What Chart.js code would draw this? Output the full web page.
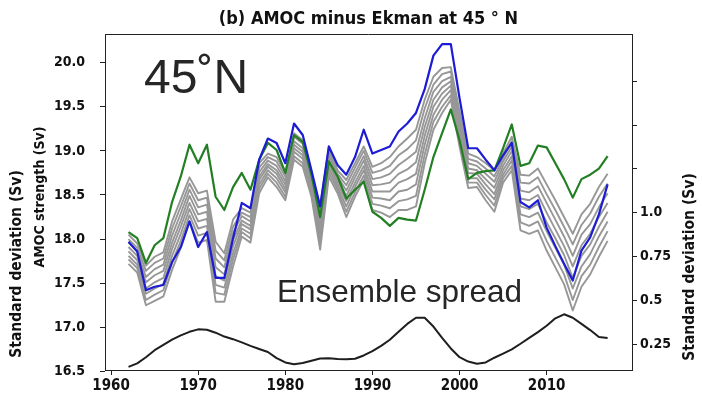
<!DOCTYPE html>
<html><head><meta charset="utf-8">
<script src="https://cdn.jsdelivr.net/npm/chart.js@4"></script>
<style>html,body{margin:0;padding:0;background:#fff;}canvas{display:block;}</style>
</head><body>
<canvas id="c" width="702" height="401"></canvas>
<script>
const years = [1962,1963,1964,1965,1966,1967,1968,1969,1970,1971,1972,1973,1974,1975,1976,1977,1978,1979,1980,1981,1982,1983,1984,1985,1986,1987,1988,1989,1990,1991,1992,1993,1994,1995,1996,1997,1998,1999,2000,2001,2002,2003,2004,2005,2006,2007,2008,2009,2010,2011,2012,2013,2014,2015,2016,2017];

const blueSeries = [17.97,17.86,17.42,17.46,17.48,17.74,17.91,18.20,17.91,18.08, 17.56,17.56,18.01,18.41,18.35,18.90,19.14,19.09,18.86,19.31, 19.18,18.78,18.37,19.05,18.84,18.73,18.93,19.24,18.97,19.01, 19.05,19.22,19.31,19.43,19.70,20.08,20.21,20.21,19.60,19.03, 19.03,18.90,18.78,18.95,19.09,18.42,18.36,18.44,18.13,17.92, 17.72,17.53,17.87,18.02,18.28,18.62];

const greenSeries = [18.08,18.01,17.73,17.93,18.01,18.42,18.71,19.07,18.86,19.07, 18.48,18.33,18.59,18.75,18.56,18.90,19.09,19.01,18.75,19.18, 19.10,18.73,18.25,18.88,18.71,18.46,18.56,18.65,18.31,18.24, 18.15,18.24,18.22,18.21,18.56,18.93,19.20,19.47,19.12,18.68, 18.75,18.77,18.78,19.03,19.30,18.83,18.86,19.06,19.04,18.86, 18.68,18.47,18.68,18.73,18.80,18.94];

const gray1 = [18.05,17.95,17.70,17.80,17.85,18.20,18.45,18.70,18.52,18.55, 17.97,17.84,18.22,18.35,18.30,18.86,18.97,18.93,18.75,19.20, 19.12,18.75,18.37,19.05,18.78,18.67,18.86,19.05,18.82,18.86, 18.93,19.05,19.14,19.24,19.58,19.84,19.94,19.95,19.45,18.97, 18.93,18.86,18.78,18.97,19.16,18.73,18.72,18.80,18.62,18.44, 18.25,18.06,18.28,18.40,18.59,18.74];
const gray2 = [18.00,17.90,17.64,17.73,17.78,18.12,18.37,18.63,18.44,18.47, 17.87,17.76,18.14,18.30,18.25,18.81,18.93,18.88,18.71,19.16, 19.08,18.71,18.30,19.00,18.74,18.61,18.81,19.00,18.75,18.78, 18.83,18.95,19.02,19.12,19.48,19.75,19.87,19.90,19.39,18.91, 18.88,18.80,18.71,18.92,19.11,18.64,18.63,18.70,18.51,18.33, 18.14,17.94,18.16,18.29,18.48,18.63];
const gray3 = [17.96,17.86,17.57,17.66,17.71,18.04,18.29,18.56,18.36,18.39, 17.78,17.68,18.07,18.26,18.20,18.76,18.89,18.83,18.66,19.11, 19.03,18.67,18.23,18.95,18.71,18.55,18.75,18.94,18.68,18.70, 18.74,18.84,18.91,18.99,19.37,19.67,19.79,19.84,19.34,18.86, 18.83,18.74,18.65,18.88,19.05,18.55,18.53,18.60,18.41,18.22, 18.03,17.81,18.05,18.17,18.36,18.52];
const gray4 = [17.91,17.81,17.51,17.59,17.64,17.96,18.21,18.49,18.28,18.31, 17.68,17.60,17.99,18.21,18.15,18.71,18.85,18.78,18.62,19.07, 18.99,18.63,18.16,18.90,18.67,18.49,18.70,18.89,18.61,18.62, 18.64,18.74,18.79,18.87,19.27,19.58,19.72,19.79,19.28,18.80, 18.78,18.68,18.58,18.83,19.00,18.46,18.44,18.50,18.30,18.11, 17.92,17.69,17.93,18.06,18.25,18.41];
const gray5 = [17.86,17.76,17.44,17.51,17.56,17.89,18.14,18.41,18.20,18.23, 17.58,17.53,17.92,18.17,18.11,18.67,18.82,18.74,18.57,19.03, 18.95,18.60,18.09,18.86,18.63,18.43,18.64,18.83,18.54,18.54, 18.54,18.64,18.68,18.74,19.17,19.50,19.65,19.74,19.22,18.75, 18.74,18.62,18.51,18.78,18.94,18.37,18.34,18.40,18.19,18.01, 17.82,17.56,17.81,17.94,18.14,18.31];
const gray6 = [17.81,17.71,17.38,17.44,17.49,17.81,18.06,18.34,18.12,18.15, 17.48,17.45,17.84,18.12,18.06,18.62,18.78,18.69,18.53,18.99, 18.91,18.56,18.02,18.81,18.59,18.37,18.59,18.78,18.47,18.46, 18.44,18.54,18.56,18.62,19.07,19.41,19.58,19.69,19.16,18.69, 18.69,18.56,18.45,18.73,18.89,18.28,18.25,18.30,18.09,17.90, 17.71,17.44,17.69,17.83,18.03,18.20];
const gray7 = [17.77,17.67,17.31,17.37,17.42,17.73,17.98,18.27,18.04,18.07, 17.39,17.37,17.77,18.08,18.01,18.57,18.74,18.64,18.48,18.94, 18.86,18.52,17.95,18.76,18.56,18.31,18.53,18.72,18.40,18.38, 18.35,18.43,18.45,18.49,18.96,19.33,19.50,19.63,19.11,18.64, 18.64,18.50,18.38,18.69,18.83,18.19,18.15,18.20,17.98,17.79, 17.60,17.31,17.58,17.71,17.91,18.09];
const gray8 = [17.72,17.62,17.25,17.30,17.35,17.65,17.90,18.20,17.96,17.99, 17.29,17.29,17.69,18.03,17.96,18.52,18.70,18.59,18.44,18.90, 18.82,18.48,17.88,18.71,18.52,18.25,18.48,18.67,18.33,18.30, 18.25,18.33,18.33,18.37,18.86,19.24,19.43,19.58,19.05,18.58, 18.59,18.44,18.31,18.64,18.78,18.10,18.06,18.10,17.87,17.68, 17.49,17.19,17.46,17.60,17.80,17.98];

const spreadSeries = [0.12,0.14,0.175,0.215,0.245,0.275,0.30,0.32,0.334,0.332, 0.315,0.293,0.278,0.26,0.24,0.222,0.205,0.17,0.145,0.135, 0.142,0.155,0.168,0.169,0.165,0.163,0.166,0.185,0.21,0.24, 0.275,0.32,0.365,0.40,0.40,0.35,0.285,0.225,0.175,0.15, 0.138,0.145,0.172,0.195,0.22,0.252,0.285,0.318,0.355,0.397, 0.42,0.40,0.365,0.33,0.29,0.285];

const xTicks = [1960,1970,1980,1990,2000,2010];
const leftTicks = [16.5,17.0,17.5,18.0,18.5,19.0,19.5,20.0];
const rightTicks = [0.25,0.5,0.75,1.0,1.25,1.5,1.75];
const rightTickLabels = ['0.25','0.5','0.75','1.0','','',''];

const titleText = '(b) AMOC minus Ekman at 45 \u00B0 N';
const leftTitle = 'AMOC strength (Sv)';
const sdTitle = 'Standard deviation (Sv)';
const bigLabel = '45\u02DAN';
const spreadLabel = 'Ensemble spread';

const grays = [gray1,gray2,gray3,gray4,gray5,gray6,gray7,gray8];
const pts = arr => arr.map((v,i)=>({x:years[i], y:v}));

const FAM = "'DejaVu Sans Condensed','Liberation Sans Narrow','DejaVu Sans',sans-serif";
const xTickFont = {family: FAM, size: 15, weight: 'bold'};
const yTickFont = {family: FAM, size: 14, weight: 'bold'};

const datasets = [
  {data: pts(blueSeries), borderColor: '#1c1cd2', borderWidth: 2.2, yAxisID: 'y'},
  {data: pts(greenSeries), borderColor: '#237f23', borderWidth: 2.2, yAxisID: 'y'},
  ...grays.map(g => ({data: pts(g), borderColor: '#979797', borderWidth: 1.9, yAxisID: 'y'})),
  {data: pts(spreadSeries), borderColor: '#1e1e1e', borderWidth: 2, yAxisID: 'y2'}
].map(d => Object.assign(d, {pointRadius: 0, tension: 0, fill: false, borderJoinStyle: 'round'}));

const deco = {
  id: 'deco',
  afterDraw(chart) {
    const {ctx, chartArea: a} = chart;
    ctx.save();
    ctx.strokeStyle = '#222'; ctx.lineWidth = 1;
    ctx.beginPath(); ctx.moveTo(a.left, a.top + 0.5); ctx.lineTo(a.right, a.top + 0.5); ctx.stroke();
    ctx.fillStyle = '#111';
    ctx.font = "bold 18px " + FAM;
    ctx.textAlign = 'center'; ctx.textBaseline = 'middle';
    ctx.fillText(titleText, (a.left + a.right) / 2, 19);
    const vtext = (t, x, y) => { ctx.save(); ctx.translate(x, y); ctx.rotate(-Math.PI/2); ctx.fillText(t, 0, 0); ctx.restore(); };
    ctx.font = "bold 14px " + FAM;
    vtext(leftTitle, 40, 197);
    ctx.font = "bold 15.5px " + FAM;
    vtext(sdTitle, 17, 264);
    vtext(sdTitle, 690, 267);
    ctx.fillStyle = '#262626';
    ctx.textAlign = 'left'; ctx.textBaseline = 'alphabetic';
    ctx.font = "48px 'Liberation Sans', Arial, sans-serif";
    ctx.fillText(bigLabel, 144, 93);
    ctx.font = "31.5px 'Liberation Sans', Arial, sans-serif";
    ctx.fillText(spreadLabel, 277, 302);
    ctx.restore();
  }
};

new Chart(document.getElementById('c'), {
  type: 'line',
  data: {datasets},
  options: {
    responsive: false, animation: false,
    layout: {padding: {top: 34, left: 0, right: 0, bottom: 0}},
    plugins: {legend: {display: false}, tooltip: {enabled: false}, title: {display: false}},
    scales: {
      x: {
        type: 'linear', min: 1959.3, max: 2019.8,
        afterBuildTicks: s => { s.ticks = xTicks.map(v => ({value: v})); },
        afterFit: s => { s.height = 31; },
        ticks: {font: xTickFont, color: '#111', padding: 2, maxRotation: 0, autoSkip: false, callback: v => String(v)},
        grid: {drawOnChartArea: false, drawTicks: true, tickLength: 5, color: '#222'},
        border: {display: true, color: '#222', width: 1}
      },
      y: {
        type: 'linear', position: 'left', min: 16.516, max: 20.325,
        afterBuildTicks: s => { s.ticks = leftTicks.map(v => ({value: v})); },
        afterFit: s => { s.width = 105; },
        ticks: {font: yTickFont, color: '#111', padding: 15, autoSkip: false, callback: v => v.toFixed(1)},
        grid: {drawOnChartArea: false, drawTicks: true, tickLength: 5, color: '#222'},
        border: {display: true, color: '#222', width: 1}
      },
      y2: {
        type: 'linear', position: 'right', min: 0.102, max: 2.02,
        afterBuildTicks: s => { s.ticks = rightTicks.map(v => ({value: v})); },
        afterFit: s => { s.width = 70; },
        ticks: {font: yTickFont, color: '#111', padding: 3, autoSkip: false,
          callback: v => rightTickLabels[rightTicks.indexOf(v)] ?? ''},
        grid: {drawOnChartArea: false, drawTicks: true, tickLength: 5, color: '#222'},
        border: {display: true, color: '#222', width: 1}
      }
    }
  },
  plugins: [deco]
});
</script>
</body></html>
